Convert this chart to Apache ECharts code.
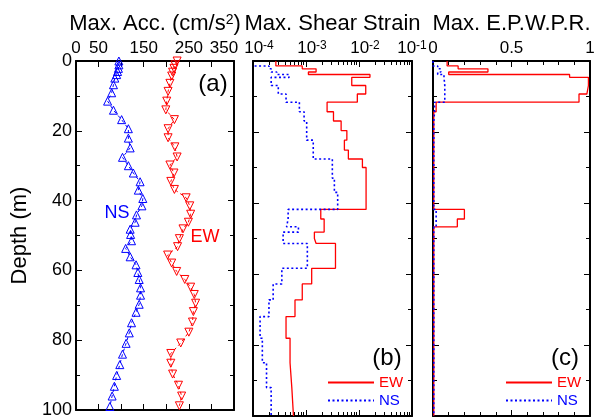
<!DOCTYPE html>
<html>
<head>
<meta charset="utf-8">
<script src="https://cdn.jsdelivr.net/npm/echarts@6/dist/echarts.min.js"></script>
<style>
  html, body { margin: 0; padding: 0; background: #fff; }
  #chart { width: 605px; height: 419px; }
</style>
</head>
<body>
<div id="chart"></div>
<script>
// (a) max acceleration
const accDepthNS = [0, 1.1, 2.1, 3.0, 3.9, 4.9, 6.8, 9.1, 11.5, 14.1, 16.8, 19.4, 22.1, 24.9, 27.6, 30.0,
  32.1, 34.6, 37.0, 39.4, 41.5, 44.1, 46.2, 48.2, 49.7, 51.5, 53.7, 56.1, 58.4, 60.6, 62.6, 65.0,
  67.1, 69.7, 72.0, 75.0, 77.9, 80.9, 84.0, 87.0, 90.1, 93.2, 96.0, 99.0];
const accNS = [95, 95, 94, 92, 90, 86, 83, 79, 70, 83, 101, 116, 116, 120, 103, 116,
  127, 142, 138, 148, 146, 134, 131, 120, 121, 123, 110, 120, 133, 137, 140, 143,
  143, 140, 133, 123, 118, 111, 103, 97, 90, 85, 80, 75];
const accDepthEW = [0, 1.1, 2.1, 3.2, 4.3, 6.4, 8.7, 11.5, 14.0, 16.8, 19.4, 22.0, 24.6, 27.5, 29.8, 32.1,
  34.5, 36.8, 39.2, 41.5, 43.9, 46.2, 48.1, 50.9, 53.2, 55.6, 57.9, 60.3, 62.6, 64.8, 66.9, 69.4,
  71.8, 74.8, 77.7, 80.8, 83.8, 86.6, 89.7, 92.9, 96.0, 98.8];
const accEW = [224, 219, 217, 214, 212, 208, 204, 201, 199, 218, 204, 204, 219, 224, 208, 217,
  210, 218, 244, 252, 254, 249, 237, 229, 225, 203, 212, 223, 241, 254, 262, 265,
  260, 258, 250, 232, 210, 210, 214, 227, 234, 229];

// layer tops (m) for (b) and (c), last layer ends at 100 m
const layerTop = [0, 1.4, 2.2, 3.1, 3.8, 4.6, 6.9, 9.3, 11.6, 14.3, 16.9, 19.6, 22.3, 25.1, 27.6, 30.0,
  33.0, 37.0, 41.8, 44.5, 46.7, 48.2, 50.0, 51.4, 58.4, 62.8, 67.3, 72.0, 78.1, 85.0, 92.0];
const layerBottom = 100;

// (b) max shear strain
const strainEW = [2.7e-4, 8.5e-4, 1.55e-3, 1.11e-3, 1.61e-2, 7.3e-3, 1.34e-2, 9.3e-3, 2.5e-3, 3.3e-3, 4.6e-3,
  5.9e-3, 5.3e-3, 6.3e-3, 1.16e-2, 1.36e-2, 1.36e-2, 1.36e-2, 1.9e-3, 2.2e-3, 2.2e-3, 1.44e-3, 1.55e-3,
  3.6e-3, 1.28e-3, 8.5e-4, 6.2e-4, 4.2e-4, 5.0e-4, 5.4e-4, 5.8e-4];
const strainNS = [5e-5, 2.0e-4, 2.2e-4, 2.8e-4, 4.8e-4, 2.2e-4, 3.0e-4, 4.2e-4, 7.5e-4, 9.2e-4, 1.03e-3,
  1.03e-3, 1.37e-3, 1.37e-3, 3.14e-3, 3.14e-3, 3.43e-3, 3.96e-3, 4.6e-4, 4.3e-4, 7.2e-4, 3.7e-4, 3.7e-4,
  1.06e-3, 3.5e-4, 2.4e-4, 2.0e-4, 1.36e-4, 1.5e-4, 1.8e-4, 2.2e-4];

// (c) max excess pore water pressure ratio
const epwprEW = [0.09, 0.16, 0.35, 0.10, 0.87, 0.99, 0.98, 0.93, 0.02, 0.005, 0.005, 0.005, 0.005, 0.005,
  0.005, 0.005, 0.005, 0.005, 0.20, 0.155, 0.005, 0.005, 0.005, 0.005, 0.005, 0.005, 0.005, 0.005, 0.005,
  0.005, 0.005];
const epwprNS = [0.0, 0.03, 0.05, 0.03, 0.07, 0.075, 0.075, 0.075, 0.01, 0.005, 0.005, 0.005, 0.005, 0.005,
  0.005, 0.005, 0.005, 0.005, 0.02, 0.02, 0.005, 0.005, 0.005, 0.005, 0.005, 0.005, 0.005, 0.005, 0.005,
  0.005, 0.005];

const accTicks = [0, 50, 150, 250, 350];

const FONT = 'Liberation Sans';
const RED = '#ff0000';
const BLUE = '#0000ff';

// each layer -> two points (top and bottom) so the profile is a staircase
function profile(values) {
  const out = [];
  values.forEach((v, i) => {
    const bot = i + 1 < layerTop.length ? layerTop[i + 1] : layerBottom;
    out.push([v, layerTop[i]]);
    out.push([v, bot]);
  });
  return out;
}
const pairs = (xs, ys) => xs.map((x, i) => [x, ys[i]]);

const chart = echarts.init(document.getElementById('chart'));

const grids = [
  { left: 76, top: 61, width: 158, height: 355 },
  { left: 253, top: 61, width: 159, height: 355 },
  { left: 433, top: 61, width: 157, height: 355 }
];

const axisLine = { show: true, onZero: false, lineStyle: { color: '#000', width: 2 } };
const tick = { show: true, inside: true, length: 6, lineStyle: { color: '#000', width: 1 } };
const minor = (n) => ({ show: true, splitNumber: n, length: 4, lineStyle: { color: '#000', width: 1 } });

function xPair(gi, base, top) {
  const topAxis = Object.assign({
    gridIndex: gi, position: 'top', axisLine, axisTick: tick,
    splitLine: { show: false }
  }, base, top);
  const botAxis = Object.assign({
    gridIndex: gi, position: 'bottom', axisLine, axisTick: tick,
    axisLabel: { show: false }, splitLine: { show: false }
  }, base);
  return [topAxis, botAxis];
}

function yPair(gi, showLabels) {
  const base = {
    type: 'value', gridIndex: gi, min: 0, max: 100, interval: 20, inverse: true,
    axisLine, axisTick: tick, minorTick: minor(2), splitLine: { show: false }
  };
  const left = Object.assign({}, base, {
    position: 'left',
    axisLabel: { show: showLabels, fontFamily: FONT, fontSize: 18, color: '#000', margin: 4 }
  });
  if (showLabels) {
    Object.assign(left, {
      name: 'Depth (m)', nameLocation: 'middle', nameGap: 45, nameRotate: 90,
      nameTextStyle: { fontFamily: FONT, fontSize: 22, color: '#000' }
    });
  }
  const right = Object.assign({}, base, { position: 'right', axisLabel: { show: false } });
  return [left, right];
}

const nameStyle = {
  fontFamily: FONT, fontSize: 22, color: '#000',
  rich: { sup: { fontFamily: FONT, fontSize: 14, verticalAlign: 'top', color: '#000' } }
};
const supRich = { fontFamily: FONT, fontSize: 12, verticalAlign: 'top', color: '#000' };

const xAxis = [].concat(
  xPair(0, { type: 'value', min: 0, max: 350, interval: 50 }, {
    name: 'Max. Acc. (cm/s{sup|2})', nameLocation: 'middle', nameGap: 24, nameTextStyle: nameStyle,
    axisLabel: {
      fontFamily: FONT, fontSize: 17, color: '#000', margin: 4,
      formatter: (v) => {
        if (accTicks.indexOf(v) < 0) return '';
        return v === 350 ? '{end|350}' : String(v);
      },
      rich: { end: { fontFamily: FONT, fontSize: 17, color: '#000', padding: [0, 20, 0, 0] } }
    }
  }),
  xPair(1, { type: 'log', logBase: 10, min: 1e-4, max: 1e-1, minorTick: minor(9) }, {
    name: 'Max. Shear Strain', nameLocation: 'middle', nameGap: 24, nameTextStyle: nameStyle,
    axisLabel: {
      fontFamily: FONT, fontSize: 17, color: '#000', margin: 4,
      formatter: (v) => {
        const p = Math.round(Math.log10(v));
        return (p === -1 ? '{e|10}' : '{b|10}') + '{sup|' + p + '}';
      },
      rich: {
        b: { fontFamily: FONT, fontSize: 17, color: '#000', padding: [0, 0, 0, 12] },
        e: { fontFamily: FONT, fontSize: 17, color: '#000', padding: [0, 0, 0, 0] },
        sup: supRich
      }
    }
  }),
  xPair(2, { type: 'value', min: 0, max: 1, interval: 0.5, minorTick: minor(5) }, {
    name: 'Max. E.P.W.P.R.', nameLocation: 'middle', nameGap: 24, nameTextStyle: nameStyle,
    axisLabel: { fontFamily: FONT, fontSize: 17, color: '#000', margin: 4 }
  })
);

const yAxis = [].concat(yPair(0, true), yPair(1, false), yPair(2, false));

const stepLine = (name, xi, data, color, dotted) => ({
  name, type: 'line', xAxisIndex: xi, yAxisIndex: xi, data,
  symbol: 'none', clip: true, silent: true, animation: false,
  lineStyle: { color, width: dotted ? 1.6 : 1.3, type: dotted ? [2, 2.5] : 'solid' },
  itemStyle: { color }
});

const markerLine = (name, data, color, rotate) => ({
  name, type: 'line', xAxisIndex: 0, yAxisIndex: 0, data,
  symbol: 'triangle', symbolSize: 8, symbolRotate: rotate, showAllSymbol: true,
  itemStyle: { color: 'rgba(0,0,0,0)', borderColor: color, borderWidth: 1 },
  lineStyle: { color, width: 1, type: [3, 3] },
  silent: true, animation: false
});

const series = [
  stepLine('EW', 2, profile(strainEW), RED, false),
  stepLine('NS', 2, profile(strainNS), BLUE, true),
  stepLine('EW', 4, profile(epwprEW), RED, false),
  stepLine('NS', 4, profile(epwprNS), BLUE, true),
  markerLine('EW', pairs(accEW, accDepthEW), RED, 180),
  markerLine('NS', pairs(accNS, accDepthNS), BLUE, 0)
];

const legendBase = {
  orient: 'vertical', top: 370, itemWidth: 46, itemHeight: 14, itemGap: 3,
  selectedMode: false,
  itemStyle: { opacity: 0, borderWidth: 0 },
  textStyle: { fontFamily: FONT, fontSize: 15 },
  data: [
    { name: 'EW', textStyle: { color: RED } },
    { name: 'NS', textStyle: { color: BLUE } }
  ]
};

const txt = (text, x, y, size, color) => ({
  type: 'text', x, y, silent: true,
  style: { text, fontFamily: FONT, fontSize: size, fill: color, align: 'center', verticalAlign: 'middle' }
});

chart.setOption({
  animation: false,
  backgroundColor: '#fff',
  grid: grids,
  xAxis,
  yAxis,
  legend: [
    Object.assign({}, legendBase, { left: 322 }),
    Object.assign({}, legendBase, { left: 500 })
  ],
  graphic: [
    txt('(a)', 213, 84, 24, '#000'),
    txt('(b)', 387, 358, 24, '#000'),
    txt('(c)', 565, 358, 24, '#000'),
    txt('NS', 117, 213, 18, BLUE),
    txt('EW', 205, 237, 18, RED)
  ],
  series
});
</script>
</body>
</html>
